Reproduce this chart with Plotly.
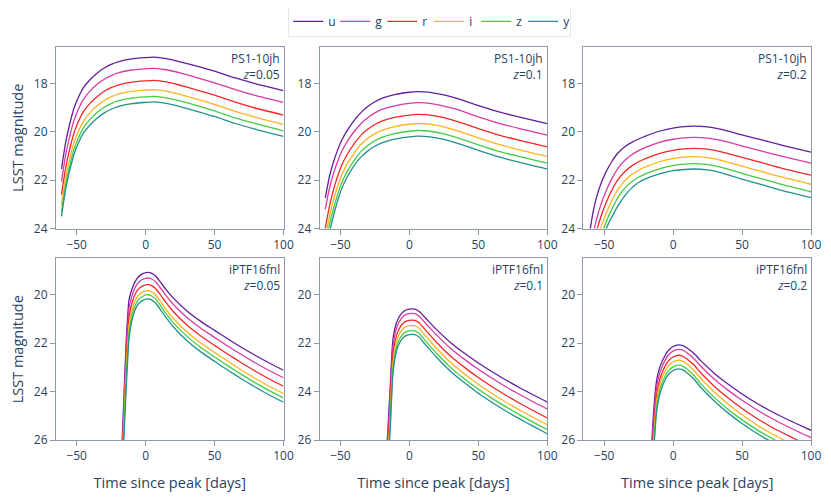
import plotly.graph_objects as go
from plotly.subplots import make_subplots

# Bands and colours
BANDS = ["u", "g", "r", "i", "z", "y"]
COLORS = ["#5f1f9f", "#d63ca4", "#f02828", "#ffb221", "#44cc44", "#23908f"]

# Observed time since peak [days]
T_TOP = [-61, -58, -55, -52, -49, -45, -40, -35, -30, -25, -20, -10, 0, 6, 15, 25, 35, 50, 65, 80, 100]
T_BOT = [-18, -16, -14, -12, -10, -8, -6, -4, -2, 0, 2, 4, 7, 10, 15, 20, 30, 40, 50, 60, 70, 80, 90, 100]

# PS1-10jh light curves (LSST mag)
PS1_005 = {
    "u": [21.54, 20.44, 19.67, 19.04, 18.61, 18.17, 17.83, 17.57, 17.37, 17.22, 17.11, 16.99, 16.94, 16.92, 16.98, 17.11, 17.26, 17.50, 17.78, 18.02, 18.30],
    "g": [22.06, 20.96, 20.18, 19.54, 19.10, 18.65, 18.30, 18.03, 17.83, 17.68, 17.57, 17.45, 17.40, 17.38, 17.44, 17.57, 17.73, 17.98, 18.26, 18.51, 18.79],
    "r": [22.60, 21.49, 20.71, 20.06, 19.61, 19.16, 18.81, 18.54, 18.33, 18.18, 18.07, 17.95, 17.90, 17.88, 17.94, 18.08, 18.24, 18.49, 18.78, 19.03, 19.31],
    "i": [23.02, 21.90, 21.11, 20.46, 20.01, 19.55, 19.19, 18.92, 18.71, 18.56, 18.45, 18.33, 18.28, 18.26, 18.32, 18.46, 18.62, 18.87, 19.16, 19.41, 19.70],
    "z": [23.30, 22.18, 21.39, 20.74, 20.29, 19.83, 19.47, 19.20, 18.99, 18.84, 18.73, 18.61, 18.56, 18.54, 18.60, 18.73, 18.89, 19.14, 19.43, 19.67, 19.96],
    "y": [23.50, 22.38, 21.59, 20.95, 20.50, 20.05, 19.70, 19.43, 19.22, 19.07, 18.96, 18.84, 18.79, 18.77, 18.83, 18.96, 19.12, 19.37, 19.66, 19.90, 20.19],
}
PS1_01 = {
    "u": [22.73, 21.86, 21.24, 20.75, 20.34, 19.94, 19.53, 19.20, 18.95, 18.76, 18.62, 18.46, 18.37, 18.34, 18.37, 18.48, 18.63, 18.92, 19.18, 19.40, 19.67],
    "g": [23.21, 22.34, 21.72, 21.22, 20.81, 20.40, 19.99, 19.66, 19.41, 19.22, 19.08, 18.92, 18.83, 18.80, 18.83, 18.94, 19.09, 19.39, 19.65, 19.87, 20.14],
    "r": [24.00, 23.08, 22.39, 21.83, 21.37, 20.93, 20.49, 20.14, 19.89, 19.70, 19.56, 19.40, 19.31, 19.28, 19.31, 19.42, 19.58, 19.87, 20.14, 20.36, 20.63],
    "i": [24.43, 23.51, 22.81, 22.25, 21.78, 21.32, 20.88, 20.52, 20.27, 20.08, 19.94, 19.78, 19.69, 19.66, 19.69, 19.80, 19.96, 20.25, 20.52, 20.75, 21.02],
    "z": [24.78, 23.86, 23.16, 22.59, 22.10, 21.63, 21.18, 20.81, 20.56, 20.37, 20.23, 20.07, 19.98, 19.95, 19.98, 20.09, 20.25, 20.54, 20.81, 21.03, 21.30],
    "y": [25.13, 24.19, 23.46, 22.85, 22.34, 21.86, 21.39, 21.04, 20.79, 20.60, 20.46, 20.30, 20.21, 20.18, 20.21, 20.32, 20.48, 20.77, 21.04, 21.27, 21.54],
}
PS1_02 = {
    "u": [24.35, 23.30, 22.60, 22.10, 21.70, 21.28, 20.88, 20.62, 20.44, 20.30, 20.18, 19.98, 19.85, 19.80, 19.77, 19.80, 19.90, 20.13, 20.35, 20.57, 20.84],
    "g": [25.33, 24.25, 23.50, 22.95, 22.50, 22.00, 21.51, 21.18, 20.95, 20.78, 20.65, 20.44, 20.31, 20.26, 20.23, 20.26, 20.36, 20.59, 20.81, 21.03, 21.30],
    "r": [25.83, 24.74, 24.00, 23.45, 22.99, 22.48, 21.98, 21.64, 21.41, 21.24, 21.11, 20.90, 20.77, 20.72, 20.69, 20.72, 20.83, 21.06, 21.29, 21.52, 21.79],
    "i": [26.27, 25.19, 24.46, 23.91, 23.44, 22.91, 22.38, 22.02, 21.77, 21.59, 21.45, 21.24, 21.11, 21.06, 21.03, 21.07, 21.18, 21.42, 21.66, 21.89, 22.17],
    "z": [26.57, 25.50, 24.77, 24.24, 23.79, 23.26, 22.72, 22.33, 22.07, 21.88, 21.74, 21.53, 21.40, 21.35, 21.32, 21.36, 21.47, 21.72, 21.96, 22.20, 22.48],
    "y": [26.85, 25.75, 25.02, 24.50, 24.06, 23.58, 23.06, 22.64, 22.32, 22.10, 21.95, 21.74, 21.61, 21.57, 21.54, 21.58, 21.70, 21.96, 22.20, 22.44, 22.72],
}

# iPTF16fnl light curves (LSST mag)
IPTF_005 = {
    "u": [27.4, 24.6, 21.8, 20.20, 19.78, 19.50, 19.31, 19.20, 19.13, 19.09, 19.08, 19.11, 19.22, 19.42, 19.80, 20.13, 20.67, 21.10, 21.47, 21.84, 22.19, 22.52, 22.83, 23.12],
    "g": [27.7, 24.9, 22.2, 20.55, 20.06, 19.75, 19.55, 19.43, 19.36, 19.32, 19.31, 19.34, 19.45, 19.66, 20.05, 20.39, 20.94, 21.38, 21.76, 22.14, 22.49, 22.83, 23.14, 23.43],
    "r": [28.0, 25.3, 22.6, 20.90, 20.36, 20.03, 19.82, 19.70, 19.63, 19.59, 19.58, 19.61, 19.73, 19.94, 20.34, 20.69, 21.25, 21.70, 22.09, 22.47, 22.83, 23.17, 23.49, 23.78],
    "i": [28.3, 25.6, 23.0, 21.25, 20.66, 20.30, 20.08, 19.96, 19.88, 19.84, 19.83, 19.87, 19.99, 20.21, 20.62, 20.97, 21.54, 21.99, 22.38, 22.76, 23.13, 23.47, 23.79, 24.08],
    "z": [28.5, 25.9, 23.4, 21.55, 20.88, 20.50, 20.27, 20.14, 20.06, 20.01, 20.00, 20.04, 20.16, 20.38, 20.79, 21.15, 21.72, 22.18, 22.57, 22.95, 23.31, 23.65, 23.97, 24.26],
    "y": [28.7, 26.2, 23.8, 21.80, 21.08, 20.68, 20.44, 20.31, 20.23, 20.18, 20.17, 20.21, 20.33, 20.55, 20.96, 21.32, 21.90, 22.36, 22.75, 23.13, 23.49, 23.83, 24.15, 24.44],
}
IPTF_01 = {
    "u": [27.8, 26.0, 23.9, 21.9, 21.27, 20.98, 20.80, 20.68, 20.62, 20.59, 20.58, 20.59, 20.68, 20.86, 21.16, 21.45, 21.98, 22.42, 22.82, 23.18, 23.52, 23.84, 24.14, 24.43],
    "g": [28.1, 26.3, 24.25, 22.2, 21.51, 21.19, 21.00, 20.87, 20.81, 20.78, 20.77, 20.78, 20.88, 21.07, 21.38, 21.68, 22.22, 22.67, 23.08, 23.45, 23.80, 24.12, 24.43, 24.72],
    "r": [28.4, 26.7, 24.7, 22.55, 21.82, 21.48, 21.28, 21.15, 21.09, 21.06, 21.05, 21.06, 21.16, 21.35, 21.67, 21.98, 22.54, 23.00, 23.42, 23.80, 24.15, 24.48, 24.79, 25.09],
    "i": [28.7, 27.0, 25.05, 22.85, 22.07, 21.71, 21.50, 21.37, 21.31, 21.28, 21.27, 21.28, 21.38, 21.58, 21.91, 22.23, 22.80, 23.27, 23.70, 24.08, 24.43, 24.76, 25.07, 25.37],
    "z": [28.9, 27.3, 25.4, 23.1, 22.30, 21.93, 21.72, 21.59, 21.52, 21.49, 21.48, 21.49, 21.59, 21.79, 22.12, 22.44, 23.01, 23.48, 23.90, 24.28, 24.63, 24.96, 25.27, 25.57],
    "y": [29.1, 27.5, 25.7, 23.35, 22.49, 22.10, 21.88, 21.75, 21.68, 21.65, 21.64, 21.65, 21.75, 21.95, 22.28, 22.60, 23.17, 23.64, 24.07, 24.45, 24.80, 25.13, 25.44, 25.74],
}
IPTF_02 = {
    "u": [28.2, 26.6, 24.7, 23.55, 23.06, 22.76, 22.53, 22.34, 22.22, 22.14, 22.09, 22.07, 22.10, 22.20, 22.42, 22.72, 23.25, 23.70, 24.10, 24.46, 24.78, 25.07, 25.34, 25.60],
    "g": [28.5, 26.95, 25.05, 23.83, 23.29, 22.97, 22.73, 22.53, 22.41, 22.33, 22.28, 22.26, 22.29, 22.40, 22.63, 22.94, 23.49, 23.95, 24.36, 24.73, 25.06, 25.36, 25.64, 25.90],
    "r": [28.8, 27.3, 25.5, 24.15, 23.56, 23.22, 22.97, 22.77, 22.65, 22.57, 22.52, 22.50, 22.54, 22.65, 22.89, 23.22, 23.79, 24.27, 24.70, 25.08, 25.42, 25.72, 26.00, 26.27],
    "i": [29.1, 27.65, 25.85, 24.40, 23.78, 23.43, 23.18, 22.98, 22.85, 22.77, 22.72, 22.70, 22.74, 22.86, 23.12, 23.45, 24.03, 24.52, 24.96, 25.35, 25.69, 25.99, 26.27, 26.54],
    "z": [29.3, 27.9, 26.15, 24.65, 24.01, 23.65, 23.39, 23.19, 23.06, 22.98, 22.93, 22.91, 22.95, 23.07, 23.33, 23.67, 24.25, 24.74, 25.17, 25.55, 25.88, 26.18, 26.46, 26.73],
    "y": [29.5, 28.1, 26.4, 24.85, 24.18, 23.81, 23.54, 23.34, 23.21, 23.13, 23.08, 23.06, 23.10, 23.22, 23.48, 23.82, 24.40, 24.89, 25.32, 25.70, 26.03, 26.33, 26.61, 26.88],
}

PANELS = [
    (1, 1, T_TOP, PS1_005, "PS1-10jh", "0.05"),
    (1, 2, T_TOP, PS1_01, "PS1-10jh", "0.1"),
    (1, 3, T_TOP, PS1_02, "PS1-10jh", "0.2"),
    (2, 1, T_BOT, IPTF_005, "iPTF16fnl", "0.05"),
    (2, 2, T_BOT, IPTF_01, "iPTF16fnl", "0.1"),
    (2, 3, T_BOT, IPTF_02, "iPTF16fnl", "0.2"),
]

fig = make_subplots(rows=2, cols=3, horizontal_spacing=0.048, vertical_spacing=0.076)

for row, col, t, curves, name, z in PANELS:
    for band, color in zip(BANDS, COLORS):
        fig.add_trace(go.Scatter(
            x=t, y=curves[band], mode="lines", name=band,
            line=dict(color=color, width=1.3, shape="spline", smoothing=0.6),
            legendgroup=band, showlegend=(row == 1 and col == 1),
        ), row=row, col=col)
    fig.add_annotation(
        text=f"{name}<br><i>z</i>={z}", showarrow=False, align="right",
        xref="x domain", yref="y domain", x=1, y=1, xanchor="right", yanchor="top",
        xshift=-2, yshift=-1, font=dict(size=12, color="#2a3f5f"),
        row=row, col=col,
    )

axis_style = dict(showgrid=False, zeroline=False, showline=True, mirror=True,
                  linecolor="#8d9aab", linewidth=1, ticks="outside", ticklen=5,
                  tickcolor="#8d9aab", tickfont=dict(size=12))

fig.update_xaxes(range=[-65, 100], tickvals=[-50, 0, 50, 100], **axis_style)
fig.update_yaxes(**axis_style)
for col in (1, 2, 3):
    fig.update_yaxes(range=[24, 16.5], tickvals=[18, 20, 22, 24], row=1, col=col)
    fig.update_yaxes(range=[26, 18.5], tickvals=[20, 22, 24, 26], row=2, col=col)
    fig.update_xaxes(title_text="Time since peak [days]", title_font=dict(size=14.5),
                     title_standoff=14, row=2, col=col)
for row in (1, 2):
    fig.update_yaxes(title_text="LSST magnitude", title_font=dict(size=14.5),
                     title_standoff=18, row=row, col=1)

fig.update_layout(
    width=831, height=498,
    template="plotly_white",
    font=dict(family="Open Sans, Arial", color="#2a3f5f"),
    margin=dict(l=48, r=28, t=39, b=66, autoexpand=False),
    legend=dict(orientation="h", x=0.495, xanchor="center", y=1.026, yanchor="bottom",
                bordercolor="#e6e9ee", borderwidth=1, font=dict(size=12),
                entrywidth=2, entrywidthmode="pixels"),
    plot_bgcolor="white", paper_bgcolor="white",
)

fig.write_html("out.html")
